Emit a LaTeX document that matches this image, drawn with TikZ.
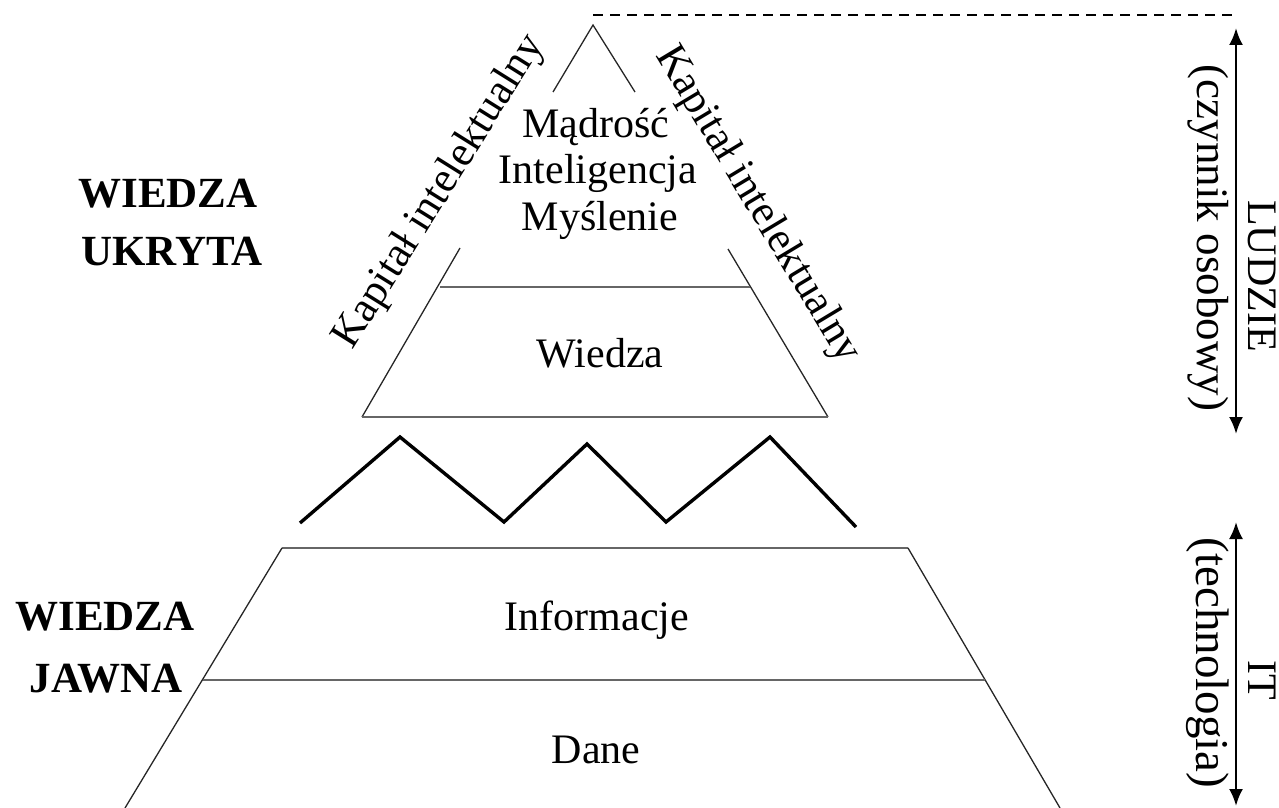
\documentclass[tikz,border=0pt]{standalone}
\usepackage{fontspec}
\setmainfont{Liberation Serif}
\usetikzlibrary{arrows.meta}
\begin{document}
\begin{tikzpicture}[x=1pt,y=-1pt,
  txt/.style={font=\fontsize{42}{47}\selectfont, inner sep=0pt, anchor=base},
  bigbold/.style={font=\bfseries\fontsize{43}{58}\selectfont, inner sep=0pt, anchor=base},
  sidetxt/.style={font=\fontsize{42}{47}\selectfont, inner sep=0pt, rotate=-90},
  slanttxt/.style={font=\fontsize{43}{47}\selectfont, inner sep=0pt},
  edgeline/.style={line width=1.3pt, draw=black!85},
  divider/.style={line width=2.4pt, draw=black!60},
  zigline/.style={line width=3.4pt, line join=miter},
  dimarrow/.style={line width=2.5pt, {Latex[length=17pt,width=14pt]}-{Latex[length=17pt,width=14pt]}},
  dashline/.style={line width=1.5pt, dash pattern=on 10pt off 7pt}
]
\useasboundingbox (0,0) rectangle (1279,808);

% coordinates of the upper pyramid
\coordinate (apex) at (593,25);
\coordinate (lt) at (553,92);
\coordinate (rt) at (635,92);
\coordinate (ll1) at (460,248);
\coordinate (ll2) at (362,417);
\coordinate (rl1) at (728,249);
\coordinate (rl2) at (828,417);
\coordinate (d1l) at (440,287);
\coordinate (d1r) at (750,287);

% lower trapezoid
\coordinate (tl) at (282,548);
\coordinate (tr) at (908,548);
\coordinate (bl) at (125,808);
\coordinate (br) at (1060,808);
\coordinate (ml) at (203,680);
\coordinate (mr) at (985,680);

% zigzag
\coordinate (z1) at (300,523);
\coordinate (z2) at (400,437);
\coordinate (z3) at (504,522);
\coordinate (z4) at (587,444);
\coordinate (z5) at (666,522);
\coordinate (z6) at (770,437);
\coordinate (z7) at (856,527);

% dashed line and arrows
\coordinate (dash1) at (593,15);
\coordinate (dash2) at (1235,15);
\coordinate (a1t) at (1236,28);
\coordinate (a1b) at (1236,434);
\coordinate (a2t) at (1236,522);
\coordinate (a2b) at (1236,806);

% upper pyramid
\draw[edgeline] (lt) -- (apex) -- (rt);
\draw[edgeline] (ll1) -- (ll2);
\draw[edgeline] (rl1) -- (rl2);
\draw[divider] (d1l) -- (d1r);
\draw[divider] (ll2) -- (rl2);

% zigzag
\draw[zigline] (z1) -- (z2) -- (z3) -- (z4) -- (z5) -- (z6) -- (z7);

% lower trapezoid
\draw[divider] (tl) -- (tr);
\draw[edgeline] (tl) -- (bl);
\draw[edgeline] (tr) -- (br);
\draw[divider] (ml) -- (mr);

% dashed line and arrows
\draw[dashline] (dash1) -- (dash2);
\draw[dimarrow] (a1t) -- (a1b);
\draw[dimarrow] (a2t) -- (a2b);

% pyramid texts
\node[txt] (madrosc) at (596,137) {Mądrość};
\node[txt] (intel) at (598,183) {Inteligencja};
\node[txt] (myslenie) at (600,230) {Myślenie};
\node[txt] (wiedza) at (600,367) {Wiedza};
\node[txt] (inform) at (597,630) {Informacje};
\node[txt] (dane) at (596,763) {Dane};

% left labels
\node[bigbold] (wu1) at (168,207) {WIEDZA};
\node[bigbold] (wu2) at (172,265) {UKRYTA};
\node[bigbold] (wj1) at (105,630) {WIEDZA};
\node[bigbold] (wj2) at (106,692) {JAWNA};

% slanted labels
\node[slanttxt, rotate=58] (kapl) at (440,192) {Kapitał intelektualny};
\node[slanttxt, rotate=-59] (kapr) at (757,205) {Kapitał intelektualny};

% right labels
\node[sidetxt] (ludzie) at (1262,276) {LUDZIE};
\node[sidetxt, font=\fontsize{45}{50}\selectfont] (czynnik) at (1208,238) {(czynnik osobowy)};
\node[sidetxt] (it) at (1262,680) {IT};
\node[sidetxt, font=\fontsize{47}{52}\selectfont] (techn) at (1208,663) {(technologia)};
\end{tikzpicture}
\end{document}
